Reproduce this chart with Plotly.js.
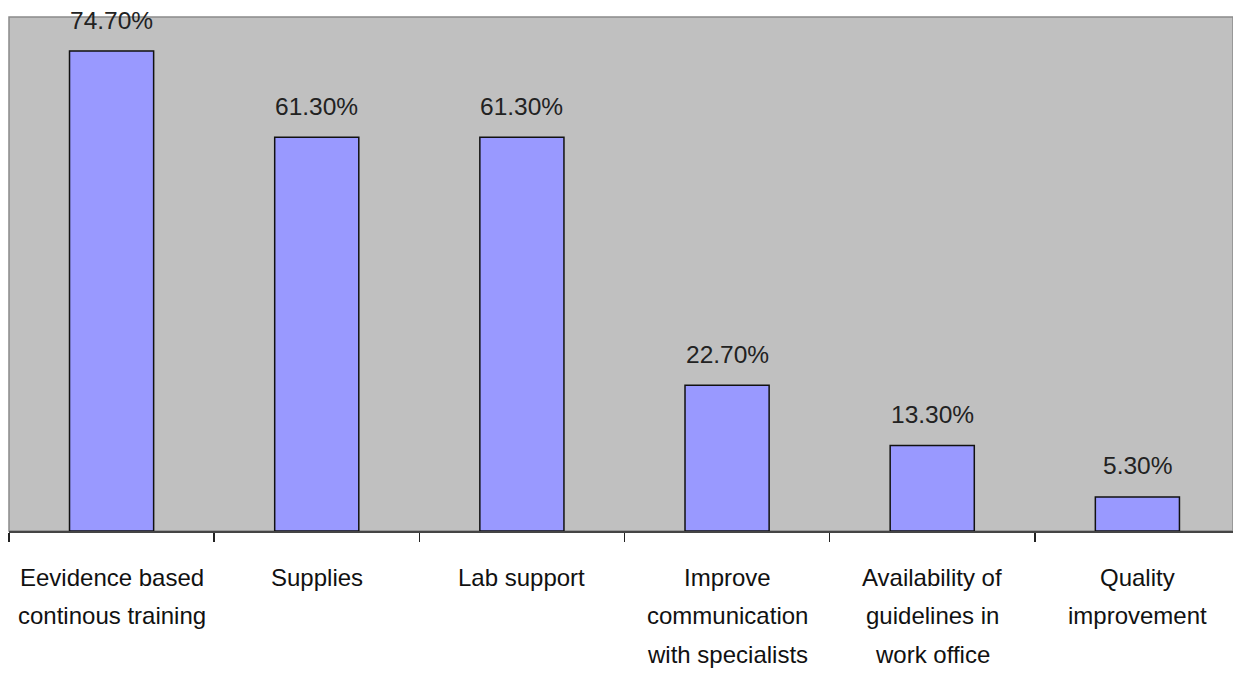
<!DOCTYPE html>
<html>
<head>
<meta charset="utf-8">
<script src="https://cdn.plot.ly/plotly-3.0.1.min.js"></script>
<style>html,body{margin:0;padding:0;background:#fff;}#chart{width:1233px;height:674px;}</style>
</head>
<body>
<div id="chart"></div>
<script>
const categories = ["cat1","cat2","cat3","cat4","cat5","cat6"];
const categoryLabels = [
  ["Eevidence based","continous training"],
  ["Supplies"],
  ["Lab support"],
  ["Improve","communication","with specialists"],
  ["Availability of","guidelines in","work office"],
  ["Quality","improvement"]
];
const values = [74.7, 61.3, 61.3, 22.7, 13.3, 5.3];

const font = 'Liberation Sans, Arial, sans-serif';
const annotations = [];
categories.forEach((c, i) => {
  annotations.push({
    x: c, y: values[i], xref: 'x', yref: 'y',
    text: values[i].toFixed(2) + '%', showarrow: false,
    yanchor: 'middle', yshift: 31,
    font: {family: font, size: 24.5, color: '#222'}
  });
  categoryLabels[i].forEach((line, j) => {
    annotations.push({
      x: c, y: 0, xref: 'x', yref: 'y',
      text: line, showarrow: false,
      yanchor: 'middle', yshift: -46 - 38.5 * j,
      font: {family: font, size: 24, color: '#111'}
    });
  });
});

const trace = {
  type: 'bar', x: categories, y: values,
  marker: {color: '#9999FF', line: {color: '#111', width: 1.5}},
  hoverinfo: 'none'
};

const layout = {
  width: 1233, height: 674,
  margin: {l: 9, r: 0, t: 17, b: 143},
  paper_bgcolor: '#ffffff', plot_bgcolor: '#C0C0C0',
  showlegend: false, bargap: 0.59,
  xaxis: {
    type: 'category', range: [-0.5, 5.466],
    showticklabels: false, tickson: 'boundaries',
    ticks: 'outside', ticklen: 9, tickwidth: 1.5, tickcolor: '#222',
    showline: true, linecolor: '#444', linewidth: 1.5,
    showgrid: false, zeroline: false, fixedrange: true
  },
  yaxis: {
    range: [0, 80], showticklabels: false, ticks: '',
    showgrid: false, zeroline: false, showline: false, fixedrange: true
  },
  shapes: [{
    type: 'rect', xref: 'paper', yref: 'paper', x0: 0, x1: 1, y0: 0, y1: 1,
    line: {color: '#8a8a8a', width: 1.5}, fillcolor: 'rgba(0,0,0,0)', layer: 'below'
  }],
  annotations: annotations
};

Plotly.newPlot('chart', [trace], layout, {displayModeBar: false, staticPlot: true});
</script>
</body>
</html>
